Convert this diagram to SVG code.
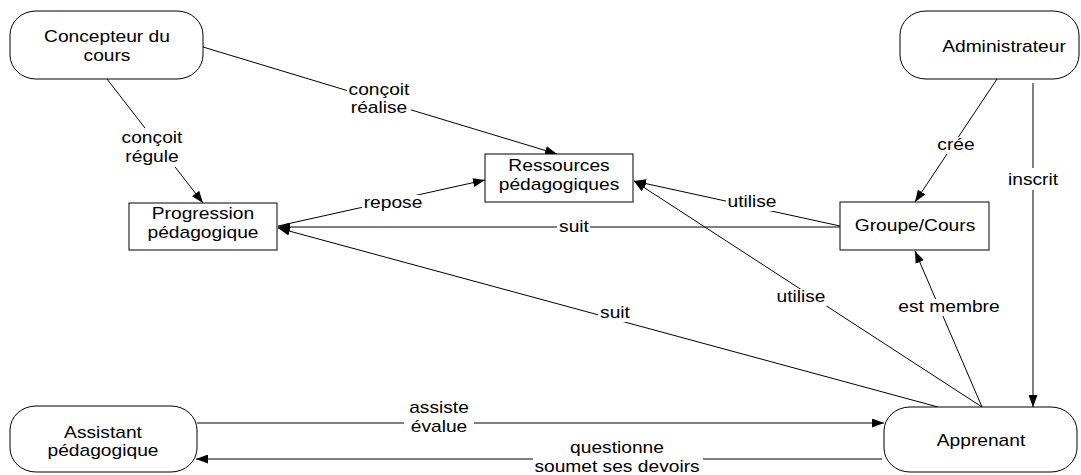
<svg xmlns="http://www.w3.org/2000/svg" width="1081" height="475" viewBox="0 0 1081 475">
<style>
.t{font-family:"Liberation Sans",Arial,sans-serif;font-size:16px;fill:#000;text-anchor:middle}
.shape{fill:#fff;stroke:#000;stroke-width:1}
.c{fill:none;stroke:#000;stroke-width:1;marker-end:url(#ah)}
.c0{fill:none;stroke:#000;stroke-width:1}
.bg{fill:#fff;stroke:none}
</style>
<defs>
<marker id="ah" markerUnits="userSpaceOnUse" viewBox="0 0 12 9" markerWidth="12" markerHeight="9" refX="12" refY="4.5" orient="auto">
<path d="M0,0 L12,4.5 L0,9 z" fill="#000"/>
</marker>
</defs>
<rect width="1081" height="475" fill="#fff"/>
<g id="connectors">
<path class="c" d="M107,79 L203,203"/>
<path class="c" d="M203,47 L557,154"/>
<path class="c" d="M278,226 L485,180"/>
<path class="c" d="M840,226 L634,181"/>
<path class="c" d="M840,227 L278,227"/>
<path class="c" d="M938,407 L278,228"/>
<path class="c" d="M982,407 L634,181"/>
<path class="c" d="M982,407 L915,251"/>
<path class="c" d="M997,79 L915,202"/>
<path class="c" d="M1033,83 L1033,407"/>
<path class="c" d="M197,423 L884,423"/>
<path class="c" d="M882,459 L196,459"/>
<g id="labels">
<rect class="bg" x="120" y="128" width="64" height="39"/>
<text class="t" transform="translate(152,143) scale(1.2,1)">conçoit</text>
<text class="t" transform="translate(152,162) scale(1.2,1)">régule</text>
<rect class="bg" x="347" y="82" width="64" height="36"/>
<text class="t" transform="translate(379,95) scale(1.2,1)">conçoit</text>
<text class="t" transform="translate(379,113) scale(1.2,1)">réalise</text>
<rect class="bg" x="362" y="195" width="62" height="17"/>
<text class="t" transform="translate(393,208) scale(1.2,1)">repose</text>
<rect class="bg" x="726" y="194" width="52" height="17"/>
<text class="t" transform="translate(752,207) scale(1.2,1)">utilise</text>
<rect class="bg" x="557" y="219" width="33" height="17"/>
<text class="t" transform="translate(574,232) scale(1.2,1)">suit</text>
<rect class="bg" x="598" y="305" width="33" height="17"/>
<text class="t" transform="translate(615,318) scale(1.2,1)">suit</text>
<rect class="bg" x="775" y="289" width="52" height="17"/>
<text class="t" transform="translate(801,302) scale(1.2,1)">utilise</text>
<rect class="bg" x="897" y="299" width="104" height="17"/>
<text class="t" transform="translate(949,312) scale(1.2,1)">est membre</text>
<rect class="bg" x="936" y="137" width="41" height="17"/>
<text class="t" transform="translate(956,150) scale(1.2,1)">crée</text>
<rect class="bg" x="1007" y="168" width="53" height="22"/>
<text class="t" transform="translate(1033,185) scale(1.2,1)">inscrit</text>
<rect class="bg" x="404" y="400" width="70" height="37"/>
<text class="t" transform="translate(439,413) scale(1.2,1)">assiste</text>
<text class="t" transform="translate(439,432) scale(1.2,1)">évalue</text>
<rect class="bg" x="533" y="440" width="170" height="35"/>
<text class="t" transform="translate(617,453) scale(1.2,1)">questionne</text>
<text class="t" transform="translate(617,472) scale(1.2,1)">soumet ses devoirs</text>
</g>
</g>
<g id="concepteur">
<rect class="shape" x="10" y="11" width="193" height="68" rx="26" ry="24"/>
<text class="t" transform="translate(107,42) scale(1.2,1)">Concepteur du</text>
<text class="t" transform="translate(107,61) scale(1.2,1)">cours</text>
</g>
<g id="administrateur">
<rect class="shape" x="900" y="11" width="179" height="68" rx="26" ry="24"/>
<text class="t" transform="translate(1004,52) scale(1.2,1)">Administrateur</text>
</g>
<g id="ressources">
<rect class="shape" x="485" y="154" width="148" height="48"/>
<text class="t" transform="translate(559,171) scale(1.2,1)">Ressources</text>
<text class="t" transform="translate(559,190) scale(1.2,1)">pédagogiques</text>
</g>
<g id="progression">
<rect class="shape" x="129" y="203" width="148" height="47"/>
<text class="t" transform="translate(203,219) scale(1.2,1)">Progression</text>
<text class="t" transform="translate(203,238) scale(1.2,1)">pédagogique</text>
</g>
<g id="groupe">
<rect class="shape" x="840" y="202" width="149" height="48"/>
<text class="t" transform="translate(915,231) scale(1.2,1)">Groupe/Cours</text>
</g>
<g id="assistant">
<rect class="shape" x="10" y="406" width="187" height="66" rx="26" ry="24"/>
<text class="t" transform="translate(103,438) scale(1.2,1)">Assistant</text>
<text class="t" transform="translate(103,456) scale(1.2,1)">pédagogique</text>
</g>
<g id="apprenant">
<rect class="shape" x="884" y="407" width="193" height="65" rx="26" ry="24"/>
<text class="t" transform="translate(981,446) scale(1.2,1)">Apprenant</text>
</g>
</svg>
